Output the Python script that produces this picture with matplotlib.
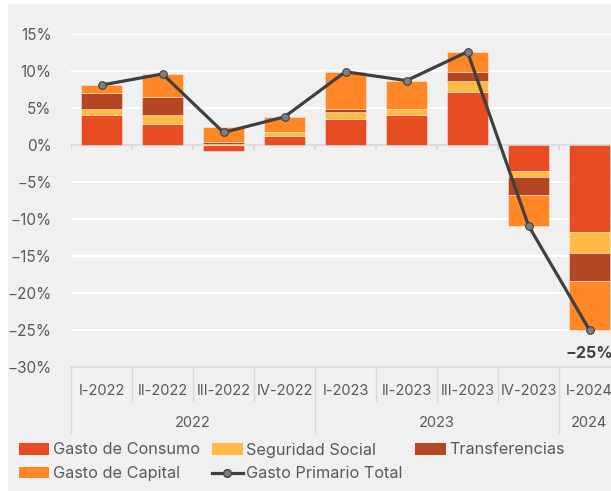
import matplotlib
matplotlib.use("Agg")
from matplotlib import pyplot as plt
from matplotlib.lines import Line2D
from matplotlib.patches import Patch, Rectangle
import numpy as np

# Contributions to real primary spending growth (percentage points, y/y)
quarters = ["I-2022", "II-2022", "III-2022", "IV-2022",
            "I-2023", "II-2023", "III-2023", "IV-2023", "I-2024"]
years = ["2022", "2023", "2024"]
year_span = [(0, 3), (4, 7), (8, 8)]

consumo = [4.1, 2.9, -0.8, 1.2, 3.5, 4.05, 7.2, -3.55, -11.8]
seguridad = [0.7, 1.1, 0.15, 0.55, 1.0, 0.75, 1.4, -0.8, -2.75]
transferencias = [2.2, 2.5, 0.3, 0.0, 0.4, 0.0, 1.2, -2.45, -3.85]
capital = [1.1, 3.1, 2.0, 2.05, 5.0, 3.9, 2.8, -4.1, -6.6]
total = [8.1, 9.6, 1.7, 3.8, 9.9, 8.7, 12.6, -10.9, -25.0]

series = [
    ("Gasto de Consumo", consumo, "#e84c22"),
    ("Seguridad Social", seguridad, "#ffba45"),
    ("Transferencias", transferencias, "#b54624"),
    ("Gasto de Capital", capital, "#ff8726"),
]

plt.rcParams['font.family'] = ['Inter', 'DejaVu Sans']
txt_color = "#595959"
sep_color = "#d9d9d9"

W, H = 611, 491
fig = plt.figure(figsize=(W / 100, H / 100), dpi=100)
fig.patches.append(Rectangle((8 / W, 0), 1, (H - 4) / H, transform=fig.transFigure,
                             facecolor="#f0f0f0", edgecolor="none", zorder=-10))

# axes box in pixels: x 71..620, y(15%)=34, y(-30%)=367
ax = fig.add_axes([71 / W, (H - 367) / H, 549 / W, 333 / H])
ax.set_facecolor("none")

x = np.arange(len(quarters))
pos_base = np.zeros(len(x))
neg_base = np.zeros(len(x))
for name, vals, col in series:
    vals = np.array(vals)
    base = np.where(vals >= 0, pos_base, neg_base)
    ax.bar(x, vals, 0.66, bottom=base, color=col, edgecolor=(1, 1, 1, 0.45),
           linewidth=0.6, zorder=3, label=name)
    pos_base += np.where(vals >= 0, vals, 0)
    neg_base += np.where(vals < 0, vals, 0)

ax.plot(x, total, color="#404040", lw=2.3, marker="o", markersize=5.5,
        markerfacecolor="#7f7f7f", markeredgecolor="#404040", markeredgewidth=0.8,
        zorder=5)
ax.annotate(f"{total[-1]:.0f}%".replace("-", "\u2212"), (x[-1], total[-1]),
            xytext=(0, -17), textcoords="offset points", ha="center", va="center",
            fontsize=11.5, fontweight="bold", color="#404040", annotation_clip=False)

ax.set_xlim(-0.5, len(x) - 0.5)
ax.set_ylim(-30, 15)
yt = np.arange(-30, 16, 5)
ax.set_yticks(yt)
ax.set_yticklabels([f"{v}%".replace("-", "\u2212") for v in yt], color=txt_color,
                   fontsize=11)
ax.tick_params(axis="y", length=0, pad=14)
ax.set_xticks([])
for s in ax.spines.values():
    s.set_visible(False)

for v in yt:
    if v in (0, -30):
        continue
    ax.axhline(v, color="white", lw=1.5, zorder=1)
ax.axhline(0, color=sep_color, lw=1.2, zorder=2)
ax.axhline(-30, color=sep_color, lw=1.2, zorder=2, clip_on=False)
ax.vlines(np.arange(len(x) + 1) - 0.5, -0.7, 0, color=sep_color, lw=1.2, zorder=2)

# two-level category axis drawn below the plot
tr = ax.get_xaxis_transform()
q_sep = -(400.7 - 367) / 333
y_sep = -(433 - 367) / 333
for k in range(len(x) + 1):
    bottom = y_sep if k in (0, 4, 8, 9) else q_sep
    ax.plot([k - 0.5, k - 0.5], [0, bottom], color=sep_color, lw=1,
            transform=tr, clip_on=False)
for i, q in enumerate(quarters):
    ax.text(i, -(390.7 - 367) / 333, q, transform=tr, ha="center", va="center",
            fontsize=10.5, color=txt_color)
for yr, (a, b) in zip(years, year_span):
    ax.text((a + b) / 2, -(422.7 - 367) / 333, yr, transform=tr, ha="center",
            va="center", fontsize=10.5, color=txt_color)

handles = [
    Patch(facecolor=series[0][2], label=series[0][0]),
    Patch(facecolor=series[3][2], label=series[3][0]),
    Patch(facecolor=series[1][2], label=series[1][0]),
    Line2D([], [], color="#404040", lw=2.3, marker="o", markersize=5.5,
           markerfacecolor="#7f7f7f", markeredgecolor="#404040",
           label="Gasto Primario Total"),
    Patch(facecolor=series[2][2], label=series[2][0]),
]
fig.legend(handles=handles, ncol=3, loc="upper left",
           bbox_to_anchor=(12 / W, (H - 436) / H), frameon=False,
           fontsize=11.7, labelcolor=txt_color, handlelength=1.9, handleheight=0.7,
           handletextpad=0.2, columnspacing=0.75, labelspacing=0.55,
           borderaxespad=0)

fig.savefig("out.png", dpi=100)
